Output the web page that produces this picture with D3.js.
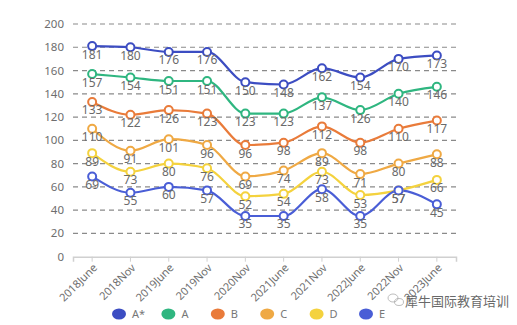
<!DOCTYPE html>
<html><head><meta charset="utf-8">
<script src="https://cdn.jsdelivr.net/npm/d3@7"></script>
<style>body{margin:0;background:#fff;}svg{display:block;font-family:"Noto Sans","Open Sans",sans-serif;}</style>
</head><body><svg id="c" width="517" height="325"></svg>
<script>
const categories = ["2018June","2018Nov","2019June","2019Nov","2020Nov","2021June","2021Nov","2022June","2022Nov","2023June"];
const seriesNames = ["A*","A","B","C","D","E"];
const seriesColors = ["#3C4DC2","#2FB680","#E97B3A","#EFA944","#F4D23E","#4A5ED6"];
const valsAstar = [181,180,176,176,150,148,162,154,170,173];
const valsA = [157,154,151,151,123,123,137,126,140,146];
const valsB = [133,122,126,123,96,98,112,98,110,117];
const valsC = [110,91,101,96,69,74,89,71,80,88];
const valsD = [89,73,80,76,52,54,73,53,57,66];
const valsE = [69,55,60,57,35,35,58,35,57,45];
const yTicks = [0,20,40,60,80,100,120,140,160,180,200];
const series = [valsAstar,valsA,valsB,valsC,valsD,valsE];

(function(){
const svg = d3.select("#c");
const mLeft = 73, mRight = 456, mTop = 24, mBottom = 256.7;
const x = d3.scaleBand().domain(categories).range([mLeft, mRight]);
const cx = d => x(d) + x.bandwidth()/2;
const y = d3.scaleLinear().domain([0,200]).range([mBottom, mTop]);

svg.append("g").selectAll("line").data(yTicks.filter(t=>t>0)).join("line")
  .attr("x1", mLeft).attr("x2", mRight).attr("y1", d=>y(d)).attr("y2", d=>y(d))
  .attr("stroke","#8a8a8a").attr("stroke-width",1.2).attr("stroke-dasharray","5,4");
svg.append("g").selectAll("text").data(yTicks).join("text")
  .attr("x", 64).attr("y", d=>y(d)).attr("dy","0.35em").attr("text-anchor","end")
  .attr("fill","#6e6e6e").attr("font-size",11.5).text(d=>d);
const xa = svg.append("g").attr("transform",`translate(0,${mBottom})`)
  .call(d3.axisBottom(x).tickSize(5).tickFormat(""));
xa.select(".domain").attr("stroke","#d0d0d0").attr("stroke-width",1.5);
xa.selectAll(".tick line").attr("stroke","#d0d0d0");
svg.append("g").selectAll("text").data(categories).join("text")
  .attr("transform", d=>`translate(${cx(d)+3},${mBottom+9}) rotate(-45)`)
  .attr("text-anchor","end").attr("dy","0.35em")
  .attr("fill","#6e6e6e").attr("font-size",11).text(d=>d);

const line = d3.line().x((d,i)=>cx(categories[i])).y(d=>y(d)).curve(d3.curveMonotoneX);
series.forEach((vals,si)=>{
  svg.append("path").datum(vals).attr("d",line).attr("fill","none")
    .attr("stroke",seriesColors[si]).attr("stroke-width",2.2);
});
series.forEach((vals,si)=>{
  const g = svg.append("g");
  g.selectAll("circle").data(vals).join("circle")
    .attr("cx",(d,i)=>cx(categories[i])).attr("cy",d=>y(d)).attr("r",4)
    .attr("fill","#fff").attr("stroke",seriesColors[si]).attr("stroke-width",2);
  g.selectAll("text").data(vals).join("text")
    .attr("x",(d,i)=>cx(categories[i])).attr("y",d=>y(d)+12.5)
    .attr("text-anchor","middle").attr("fill","#6a6a6a").attr("font-size",12)
    .text(d=>d);
});

const lg = svg.append("g");
seriesNames.forEach((n,i)=>{
  const lx = 119 + i*49.4;
  lg.append("ellipse").attr("cx",lx).attr("cy",314).attr("rx",7).attr("ry",5.5).attr("fill",seriesColors[i]);
  lg.append("text").attr("x",lx+13).attr("y",314).attr("dy","0.35em").attr("font-size",11)
    .attr("fill","#777").text(n);
});

const wm = svg.append("g").attr("opacity",0.8);
wm.append("ellipse").attr("cx",393).attr("cy",298).attr("rx",5).attr("ry",4).attr("fill","none").attr("stroke","#999").attr("stroke-width",0.8);
wm.append("ellipse").attr("cx",399).attr("cy",302).attr("rx",4.5).attr("ry",3.5).attr("fill","none").attr("stroke","#999").attr("stroke-width",0.8);
wm.append("text").attr("x",405).attr("y",306).attr("font-size",13)
  .attr("font-family","Noto Sans CJK SC").attr("fill","#444").text("犀牛国际教育培训");
})();
</script></body></html>
